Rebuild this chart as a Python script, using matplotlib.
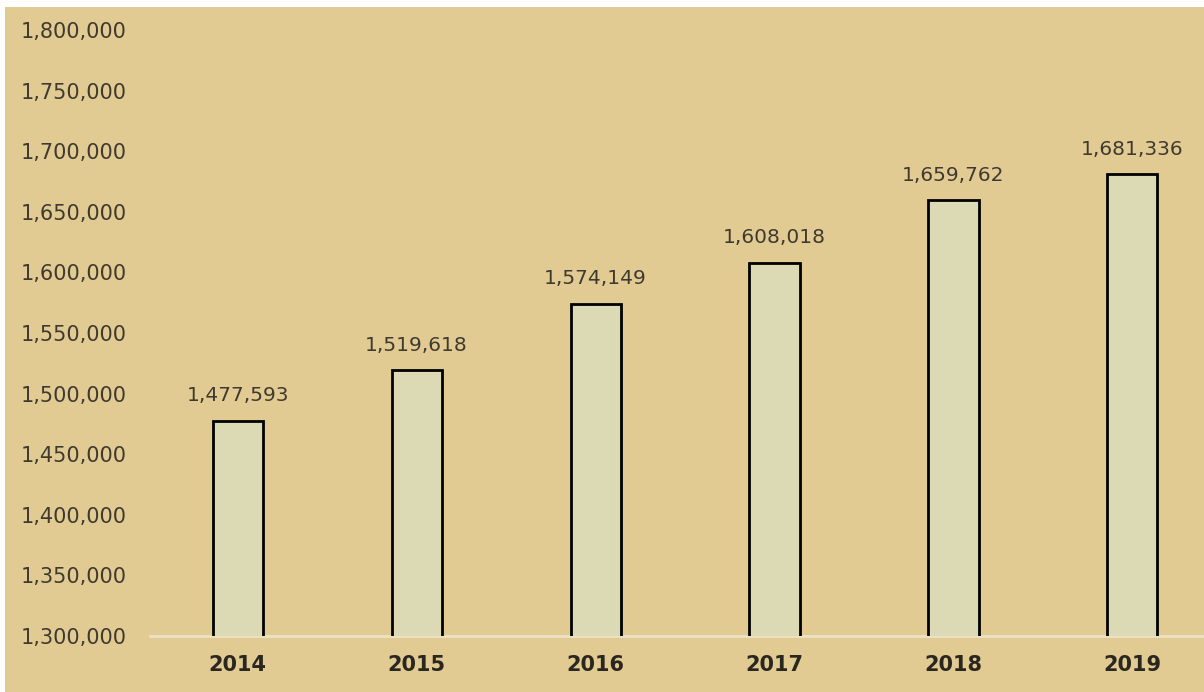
import matplotlib
matplotlib.use('Agg')
import matplotlib.pyplot as plt
from matplotlib.patches import Rectangle
from matplotlib.ticker import FuncFormatter

# data
years = ['2014', '2015', '2016', '2017', '2018', '2019']
values = [1477593, 1519618, 1574149, 1608018, 1659762, 1681336]

bg = '#e2cb92'
bar_fill = '#dcdab4'
text_col = '#3f3a30'

W, H = 1204, 692
fig = plt.figure(figsize=(W / 100, H / 100), dpi=100, facecolor='white')
# tan panel, thin white strip left and top
fig.patches.append(Rectangle((5 / W, 0), 1 - 5 / W, 1 - 7 / H, transform=fig.transFigure,
                             facecolor=bg, edgecolor='none', zorder=-10))

ax = fig.add_axes([150 / W, 1 - 636 / H, 1 - 150 / W, (636 - 30) / H])
ax.set_facecolor('none')
ax.set_zorder(5)

x = range(len(years))
bars = ax.bar(x, values, width=0.28, bottom=0, color=bar_fill,
              edgecolor='black', linewidth=2.0, zorder=2)

for xi, v in zip(x, values):
    ax.annotate(f'{v:,}', (xi, v), xytext=(0, 11), textcoords='offset points',
                ha='center', va='bottom', fontsize=14.5, color=text_col)

ax.set_ylim(1300000, 1800000)
ax.set_xlim(-0.49, 5.4)
ax.set_yticks(range(1300000, 1800001, 50000))
ax.yaxis.set_major_formatter(FuncFormatter(lambda v, p: f'{int(v):,}'))
ax.set_xticks(list(x))
ax.set_xticklabels(years, fontsize=15, fontweight='bold', color='#2a2620')

for s in ['top', 'right', 'left']:
    ax.spines[s].set_visible(False)
ax.spines['bottom'].set_color('#ece3c6')
ax.spines['bottom'].set_linewidth(2)
ax.spines['bottom'].set_zorder(1)

ax.tick_params(axis='y', length=0, pad=17, labelsize=15, labelcolor=text_col)
ax.tick_params(axis='x', length=0, pad=14)

fig.savefig('out.png', dpi=100, facecolor='white')
